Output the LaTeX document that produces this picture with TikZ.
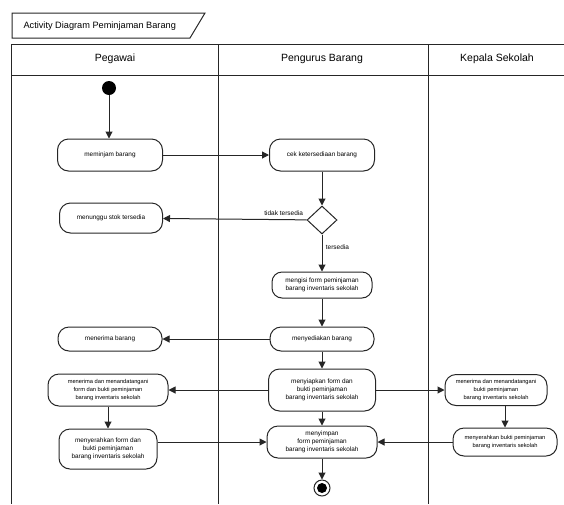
\documentclass[tikz,border=0pt]{standalone}
\usepackage{fontspec}
\setmainfont{Liberation Sans}
\usepackage{tikz}
\usetikzlibrary{arrows.meta,shapes.geometric,calc}

\begin{document}
\begin{tikzpicture}[x=1pt,y=-1pt,
	garis/.style={line width=1pt,draw=black!85},
	panah/.style={garis,-{Triangle[length=7pt,width=7pt]}},
	aksi/.style={garis,rounded corners=11pt,align=center,inner sep=2pt,
		font=\fontsize{6.4}{8.2}\selectfont},
	kecil/.style={font=\fontsize{5.7}{8}\selectfont},
	label/.style={font=\fontsize{6.5}{8}\selectfont}]

	\useasboundingbox (0,0) rectangle (564,504);

	\draw[garis] (12,13) -- (205,13) -- (190,38) -- (12,38) -- cycle; %judul
	\node[anchor=west,font=\fontsize{9.2}{10}\selectfont] (judul) at (20,26) {Activity Diagram Peminjaman Barang};

	\draw[garis] (564,44) -- (11,44) -- (11,504); %kolam
	\draw[garis] (11,75) -- (564,75);
	\draw[garis] (218,44) -- (218,504); %lajur
	\draw[garis] (428,44) -- (428,504);
	\node[font=\fontsize{10.5}{12}\selectfont] (lajurA) at (115,59) {Pegawai};
	\node[font=\fontsize{10.5}{12}\selectfont] (lajurB) at (322,59) {Pengurus Barang};
	\node[font=\fontsize{10.5}{12}\selectfont] (lajurC) at (497,59) {Kepala Sekolah};

	\node[circle,fill=black,minimum size=14pt,inner sep=0pt] (mulai) at (109,88) {};
	\node[aksi,minimum width=105pt,minimum height=32pt] (pinjam) at (110,155) {meminjam barang};
	\node[aksi,minimum width=105pt,minimum height=32pt] (cek) at (322,155) {cek ketersediaan barang};
	\node[garis,diamond,minimum width=30pt,minimum height=28pt,inner sep=0pt] (cabang) at (322,220) {};
	\node[aksi,minimum width=103pt,minimum height=30pt] (tunggu) at (111,218) {menunggu stok tersedia};
	\node[aksi,minimum width=100pt,minimum height=26pt,rounded corners=10pt] (isi) at (322,285) {mengisi form peminjaman\\barang inventaris sekolah};
	\node[aksi,minimum width=104pt,minimum height=24pt] (sedia) at (322,339) {menyediakan barang};
	\node[aksi,minimum width=104pt,minimum height=24pt] (terima) at (110,339) {menerima barang};
	\node[aksi,minimum width=107pt,minimum height=42pt] (siap) at (322,390) {menyiapkan form dan\\bukti peminjaman\\barang inventaris sekolah};
	\node[aksi,kecil,minimum width=120pt,minimum height=32pt] (ttdA) at (108,390) {menerima dan menandatangani\\form dan bukti peminjaman\\barang inventaris sekolah};
	\node[aksi,kecil,minimum width=102pt,minimum height=31pt] (ttdB) at (496,390) {menerima dan menandatangani\\bukti peminjaman\\barang inventaris sekolah};
	\node[aksi,minimum width=98pt,minimum height=40pt] (serahA) at (108,449) {menyerahkan form dan\\bukti peminjaman\\barang inventaris sekolah};
	\node[aksi,minimum width=110pt,minimum height=32pt] (simpan) at (322,442) {menyimpan\\form peminjaman\\barang inventaris sekolah};
	\node[aksi,kecil,minimum width=104pt,minimum height=28pt] (serahB) at (505,442) {menyerahkan bukti peminjaman\\barang inventaris sekolah};
	\node[garis,circle,minimum size=16pt,inner sep=0pt] (selesai) at (322,488) {};
	\node[circle,fill=black,minimum size=10pt,inner sep=0pt] at (selesai) {};

	\draw[panah] (mulai) -- (mulai |- pinjam.north);
	\draw[panah] (pinjam) -- (cek);
	\draw[panah] (cek) -- (cabang);
	\draw[panah] (cabang) -- node[label,above,pos=0.16] {tidak tersedia} (tunggu);
	\draw[panah] (cabang) -- node[label,right,pos=0.35] {tersedia} (isi);
	\draw[panah] (isi) -- (sedia);
	\draw[panah] (sedia) -- (terima);
	\draw[panah] (sedia) -- (siap);
	\draw[panah] (siap) -- (ttdA);
	\draw[panah] (siap) -- (ttdB);
	\draw[panah] (ttdA) -- (serahA);
	\draw[panah] (ttdB.south -| serahB) -- (serahB);
	\draw[panah] (serahA.east |- simpan.west) -- (simpan.west);
	\draw[panah] (serahB) -- (simpan);
	\draw[panah] (siap) -- (simpan);
	\draw[panah] (simpan) -- (selesai);

\end{tikzpicture}
\end{document}
